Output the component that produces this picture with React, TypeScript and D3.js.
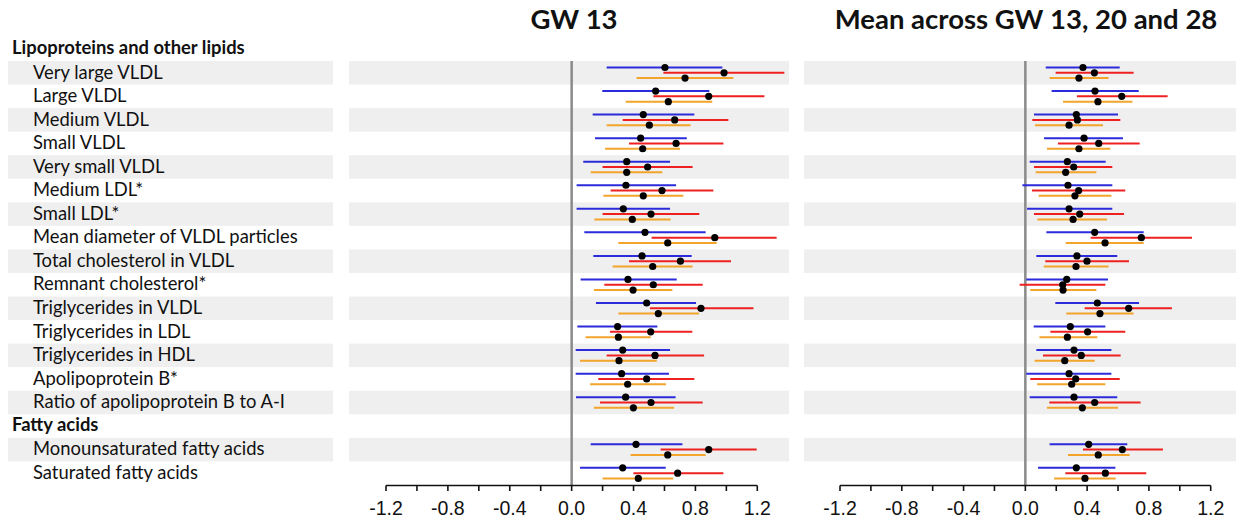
import React from "react";
import * as d3 from "d3";

// Row structure: group headers and item labels
const rowLabels: string[] = [
  "Lipoproteins and other lipids",
  "Very large VLDL",
  "Large VLDL",
  "Medium VLDL",
  "Small VLDL",
  "Very small VLDL",
  "Medium LDL*",
  "Small LDL*",
  "Mean diameter of VLDL particles",
  "Total cholesterol in VLDL",
  "Remnant cholesterol*",
  "Triglycerides in VLDL",
  "Triglycerides in LDL",
  "Triglycerides in HDL",
  "Apolipoprotein B*",
  "Ratio of apolipoprotein B to A-I",
  "Fatty acids",
  "Monounsaturated fatty acids",
  "Saturated fatty acids",
];
const headerRows: number[] = [0, 16];

const panelTitles: string[] = ["GW 13", "Mean across GW 13, 20 and 28"];
const tickValues: number[] = [-1.2, -1.0, -0.8, -0.6, -0.4, -0.2, 0, 0.2, 0.4, 0.6, 0.8, 1.0, 1.2];
const tickLabels: number[] = [-1.2, -0.8, -0.4, 0, 0.4, 0.8, 1.2];

// [low, estimate, high] per item row (17 items)
const gw13Blue: number[][] = [
  [0.226, 0.603, 0.974], [0.198, 0.543, 0.89], [0.136, 0.463, 0.793], [0.151, 0.446, 0.744],
  [0.075, 0.356, 0.636], [0.032, 0.351, 0.675], [0.032, 0.334, 0.636], [0.082, 0.474, 0.866],
  [0.14, 0.455, 0.776], [0.058, 0.364, 0.679], [0.157, 0.485, 0.804], [0.037, 0.297, 0.554],
  [0.026, 0.33, 0.636], [0.026, 0.323, 0.629], [0.028, 0.349, 0.672],
  [0.123, 0.416, 0.716], [0.054, 0.33, 0.608],
];
const gw13Red: number[][] = [
  [0.593, 0.985, 1.375], [0.528, 0.886, 1.246], [0.33, 0.666, 1.013], [0.371, 0.675, 0.981],
  [0.2, 0.491, 0.782], [0.252, 0.584, 0.916], [0.2, 0.513, 0.825], [0.517, 0.925, 1.325],
  [0.371, 0.703, 1.03], [0.211, 0.528, 0.847], [0.506, 0.836, 1.175], [0.248, 0.511, 0.78],
  [0.226, 0.539, 0.856], [0.172, 0.485, 0.793], [0.183, 0.513, 0.847],
  [0.575, 0.886, 1.196], [0.399, 0.685, 0.981],
];
const gw13Orange: number[][] = [
  [0.42, 0.733, 1.045], [0.349, 0.625, 0.909], [0.226, 0.502, 0.769], [0.216, 0.459, 0.7],
  [0.123, 0.356, 0.586], [0.205, 0.463, 0.722], [0.147, 0.392, 0.64], [0.302, 0.621, 0.9375],
  [0.265, 0.524, 0.782], [0.144, 0.397, 0.651], [0.302, 0.56, 0.823], [0.09, 0.302, 0.511],
  [0.054, 0.306, 0.55], [0.119, 0.362, 0.61], [0.144, 0.399, 0.662],
  [0.381, 0.621, 0.866], [0.2, 0.431, 0.657],
];
const meanBlue: number[][] = [
  [0.132, 0.373, 0.611], [0.17, 0.451, 0.734], [0.056, 0.33, 0.6], [0.121, 0.38, 0.632],
  [0.028, 0.272, 0.52], [-0.019, 0.276, 0.563], [0.011, 0.283, 0.563], [0.136, 0.449, 0.766],
  [0.071, 0.334, 0.595], [0.006, 0.268, 0.535], [0.194, 0.466, 0.736], [0.054, 0.291, 0.518],
  [0.071, 0.315, 0.557], [0.006, 0.283, 0.557], [0.028, 0.315, 0.595],
  [0.157, 0.41, 0.66], [0.082, 0.33, 0.583],
];
const meanRed: number[][] = [
  [0.196, 0.447, 0.701], [0.334, 0.624, 0.921], [0.045, 0.337, 0.615], [0.211, 0.475, 0.74],
  [0.056, 0.313, 0.563], [0.043, 0.345, 0.647], [0.056, 0.352, 0.639], [0.423, 0.751, 1.079],
  [0.129, 0.399, 0.671], [-0.037, 0.242, 0.518], [0.384, 0.669, 0.949], [0.162, 0.403, 0.647],
  [0.114, 0.362, 0.617], [0.032, 0.326, 0.611], [0.155, 0.449, 0.746],
  [0.373, 0.628, 0.891], [0.259, 0.518, 0.783],
];
const meanOrange: number[][] = [
  [0.157, 0.347, 0.539], [0.244, 0.47, 0.693], [0.063, 0.283, 0.503], [0.14, 0.347, 0.55],
  [0.067, 0.261, 0.46], [0.086, 0.321, 0.557], [0.078, 0.309, 0.529], [0.261, 0.516, 0.766],
  [0.119, 0.328, 0.539], [0.032, 0.244, 0.46], [0.265, 0.483, 0.701], [0.091, 0.272, 0.466],
  [0.06, 0.255, 0.449], [0.076, 0.3, 0.518], [0.14, 0.369, 0.6],
  [0.276, 0.472, 0.675], [0.186, 0.386, 0.585],
];

const seriesColors: string[] = ["#2b2bdc", "#ee2020", "#f2a52a"];
const seriesOffsets: number[] = [-5.3, 0, 5.3];

const W = 1236;
const H = 521;
const ROW_H = 23.55;
const TOP0 = 61 - ROW_H; // top of header row 0
const AXIS_Y = 485.5;

const labelFont = "Lato, 'Open Sans', sans-serif";
const numFont = "'Liberation Sans', Arial, sans-serif";

const itemRowIndex: number[] = rowLabels
  .map((_, i) => i)
  .filter((i) => !headerRows.includes(i));

const fmtTick = (t: number) => d3.format(".1f")(t).replace("\u2212", "-");

function isStriped(i: number): boolean {
  if (headerRows.includes(i)) return false;
  return i < 16 ? i % 2 === 1 : i === 17;
}

export default function App() {
  const yTop = d3.scaleLinear().domain([0, rowLabels.length]).range([TOP0, TOP0 + rowLabels.length * ROW_H]);

  const panels = [
    {
      title: panelTitles[0],
      x: d3.scaleLinear().domain([-1.2, 1.2]).range([386, 757.3]),
      bgX0: 349,
      bgX1: 789,
      titleX: 574,
      series: [gw13Blue, gw13Red, gw13Orange],
    },
    {
      title: panelTitles[1],
      x: d3.scaleLinear().domain([-1.2, 1.2]).range([840, 1210.7]),
      bgX0: 804,
      bgX1: 1236,
      titleX: 1026,
      series: [meanBlue, meanRed, meanOrange],
    },
  ];

  return (
    <svg
      width={W}
      height={H}
      style={{ position: "absolute", left: 0, top: 0, background: "#fff" }}
    >
      {/* label column */}
      {rowLabels.map((lab, i) => {
        const isHeader = headerRows.includes(i);
        return (
          <g key={"lab" + i}>
            {isStriped(i) && (
              <rect x={8} y={yTop(i)} width={325} height={ROW_H} fill="#efefef" />
            )}
            <text
              x={isHeader ? 12 : 33}
              y={yTop(i) + (isHeader ? 16.5 : 17.5)}
              fontFamily={labelFont}
              fontSize={isHeader ? 18.4 : 18.4}
              fontWeight={isHeader ? 700 : 400}
              fill="#111"
            >
              {lab}
            </text>
          </g>
        );
      })}

      {panels.map((p, pi) => (
        <g key={"panel" + pi}>
          <text
            x={p.titleX}
            y={29}
            textAnchor="middle"
            fontFamily={labelFont}
            fontSize={27.5}
            fontWeight={700}
            fill="#111"
          >
            {p.title}
          </text>
          {/* stripes */}
          {rowLabels.map((_, i) =>
            isStriped(i) ? (
              <rect
                key={"st" + i}
                x={p.bgX0}
                y={yTop(i)}
                width={p.bgX1 - p.bgX0}
                height={ROW_H}
                fill="#efefef"
              />
            ) : null
          )}
          {/* zero line */}
          <line
            x1={p.x(0)}
            x2={p.x(0)}
            y1={yTop(1)}
            y2={AXIS_Y}
            stroke="#8a8a8a"
            strokeWidth={2.5}
          />
          {/* axis */}
          <line x1={p.x(-1.2)} x2={p.x(1.2)} y1={AXIS_Y} y2={AXIS_Y} stroke="#111" strokeWidth={1.6} />
          {tickValues.map((t) => (
            <line
              key={"t" + t}
              x1={p.x(t)}
              x2={p.x(t)}
              y1={AXIS_Y}
              y2={AXIS_Y + 5.5}
              stroke="#111"
              strokeWidth={1.6}
            />
          ))}
          {tickLabels.map((t) => (
            <text
              key={"tl" + t}
              x={p.x(t)}
              y={514.5}
              textAnchor="middle"
              fontFamily={numFont}
              fontSize={19.5}
              fill="#111"
            >
              {fmtTick(t)}
            </text>
          ))}
          {/* CIs */}
          {itemRowIndex.map((ri, k) => {
            const cy = yTop(ri) + 11.8;
            return (
              <g key={"r" + ri}>
                {p.series.map((s, si) => (
                  <line
                    key={"l" + si}
                    x1={p.x(s[k][0])}
                    x2={p.x(s[k][2])}
                    y1={cy + seriesOffsets[si]}
                    y2={cy + seriesOffsets[si]}
                    stroke={seriesColors[si]}
                    strokeWidth={2}
                  />
                ))}
                {p.series.map((s, si) => (
                  <circle
                    key={"c" + si}
                    cx={p.x(s[k][1])}
                    cy={cy + seriesOffsets[si]}
                    r={3.6}
                    fill="#000"
                  />
                ))}
              </g>
            );
          })}
        </g>
      ))}
    </svg>
  );
}
